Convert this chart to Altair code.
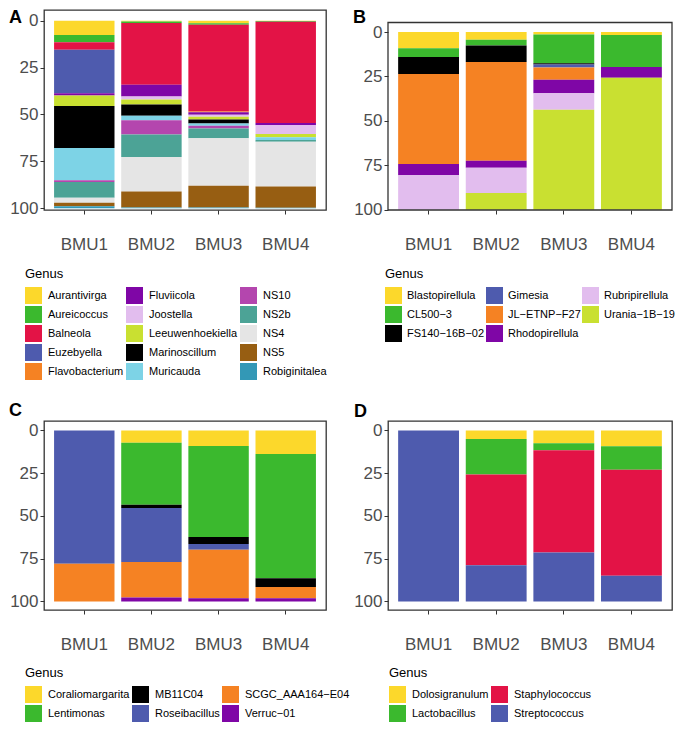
import altair as alt
import pandas as pd

FONT = "Liberation Sans"
SAMPLES = ["BMU1", "BMU2", "BMU3", "BMU4"]

YELLOW, GREEN, RED, BLUE = "#FCD82B", "#3BB92E", "#E31346", "#4E5BAE"
ORANGE, PURPLE, LPINK, YGREEN = "#F58223", "#7F06A6", "#E2BDEE", "#C9E031"
BLACK, LBLUE, MAGENTA, TEAL = "#000000", "#7DD3E6", "#B446AE", "#4CA396"
LGRAY, BROWN, TBLUE = "#E5E5E5", "#975E12", "#3398B6"

# Panel A
A_GENERA = ["Aurantivirga", "Aureicoccus", "Balneola", "Euzebyella", "Flavobacterium",
            "Fluviicola", "Joostella", "Leeuwenhoekiella", "Marinoscillum", "Muricauda",
            "NS10", "NS2b", "NS4", "NS5", "Robiginitalea"]
A_COLORS = [YELLOW, GREEN, RED, BLUE, ORANGE, PURPLE, LPINK, YGREEN, BLACK, LBLUE,
            MAGENTA, TEAL, LGRAY, BROWN, TBLUE]
A_BMU1 = [7.7, 3.8, 4.0, 23.2, 0, 1.2, 0, 5.6, 22.4, 17.2, 1.0, 8.4, 2.6, 1.9, 1.0]
A_BMU2 = [0.5, 0.7, 33.0, 0, 0, 6.2, 1.7, 2.6, 6.0, 2.4, 7.6, 12.0, 18.4, 8.6, 0.3]
A_BMU3 = [1.4, 0.8, 46.3, 0, 0.3, 1.4, 1.0, 1.5, 2.2, 1.2, 1.4, 5.2, 25.4, 11.6, 0.3]
A_BMU4 = [0.2, 0.4, 54.0, 0, 0, 1.2, 4.7, 1.7, 0, 1.4, 0, 1.0, 23.9, 11.3, 0.2]

# Panel B
B_GENERA = ["Blastopirellula", "CL500\u22123", "FS140\u221216B\u221202", "Gimesia",
            "JL\u2212ETNP\u2212F27", "Rhodopirellula", "Rubripirellula", "Urania\u22121B\u221219"]
B_COLORS = [YELLOW, GREEN, BLACK, BLUE, ORANGE, PURPLE, LPINK, YGREEN]
B_BMU1 = [9.1, 5.0, 9.5, 0, 50.7, 6.3, 19.4, 0]
B_BMU2 = [4.3, 3.3, 9.2, 0, 55.7, 3.9, 14.2, 9.4]
B_BMU3 = [1.3, 16.3, 0.7, 1.6, 6.9, 7.6, 9.4, 56.2]
B_BMU4 = [1.6, 18.0, 0, 0, 0, 6.1, 0, 74.3]

# Panel C
C_GENERA = ["Coraliomargarita", "Lentimonas", "MB11C04", "Roseibacillus",
            "SCGC_AAA164\u2212E04", "Verruc\u221201"]
C_COLORS = [YELLOW, GREEN, BLACK, BLUE, ORANGE, PURPLE]
C_BMU1 = [0, 0, 0, 77.9, 22.1, 0]
C_BMU2 = [7.2, 36.2, 1.9, 31.7, 20.7, 2.3]
C_BMU3 = [9.1, 53.2, 4.1, 3.4, 28.3, 1.9]
C_BMU4 = [13.8, 72.6, 5.1, 0, 6.6, 1.9]

# Panel D
D_GENERA = ["Dolosigranulum", "Lactobacillus", "Staphylococcus", "Streptococcus"]
D_COLORS = [YELLOW, GREEN, RED, BLUE]
D_BMU1 = [0, 0, 0, 100]
D_BMU2 = [5.0, 20.8, 53.1, 21.1]
D_BMU3 = [7.5, 4.1, 59.8, 28.6]
D_BMU4 = [9.3, 13.7, 62.0, 15.0]

FRAME = "#333333"


def panel(letter, genera, colors, series, width, height, ydom, letter_xy, legend_xy, ncols,
          frame=None, lab_offset=6, col_pad=2):
    recs = []
    for s, vals in zip(SAMPLES, series):
        for i, (g, v) in enumerate(zip(genera, vals)):
            if v > 0:
                recs.append({"sample": s, "genus": g, "value": v, "idx": i})
    df = pd.DataFrame(recs)
    bars = alt.Chart(df).mark_bar().encode(
        x=alt.X("sample:N", sort=SAMPLES,
                scale=alt.Scale(paddingInner=0.1, paddingOuter=0.15),
                axis=alt.Axis(title=None, labelAngle=0, labelFontSize=17, labelColor="#4D4D4D",
                              labelFont=FONT, tickSize=4, tickColor=FRAME, domain=False,
                              labelPadding=22, grid=False)),
        y=alt.Y("value:Q", stack="zero",
                scale=alt.Scale(domain=ydom, reverse=True, nice=False, zero=False),
                axis=alt.Axis(title=None, values=[0, 25, 50, 75, 100], labelFontSize=17,
                              labelColor="#4D4D4D", labelFont=FONT, tickSize=4,
                              tickColor=FRAME, domain=False, grid=False, labelPadding=2)),
        color=alt.Color("genus:N", scale=alt.Scale(domain=genera, range=colors),
                        legend=alt.Legend(title="Genus", orient="none", legendX=legend_xy[0],
                                          legendY=legend_xy[1], columns=ncols,
                                          labelOffset=lab_offset, columnPadding=col_pad)),
        order=alt.Order("idx:Q", sort="ascending"),
    )
    tdf = pd.DataFrame({"t": [letter]})
    lab = alt.Chart(tdf).mark_text(
        align="left", baseline="alphabetic", fontSize=18, fontWeight="bold", font=FONT,
        color="black"
    ).encode(x=alt.value(letter_xy[0]), y=alt.value(letter_xy[1]), text="t:N")
    layers = [bars, lab]
    props = dict(width=width, height=height)
    if frame is not None:
        box = alt.Chart(tdf).mark_rect(fillOpacity=0, stroke=FRAME, strokeWidth=1.3).encode(
            x=alt.value(0), x2=alt.value(width), y=alt.value(frame[0]), y2=alt.value(frame[1]))
        layers.append(box)
        props["view"] = alt.ViewBackground(stroke="transparent")
    return alt.layer(*layers).properties(**props)


pA = panel("A", A_GENERA, A_COLORS, [A_BMU1, A_BMU2, A_BMU3, A_BMU4], 282, 200,
           [-5.7, 101], (-35, 13), (-19, 258), 3)
pB = panel("B", B_GENERA, B_COLORS, [B_BMU1, B_BMU2, B_BMU3, B_BMU4], 284, 200,
           [-12.44, 100.2], (-35, 13), (-3, 258), 3, frame=(12.5, 200), lab_offset=5,
           col_pad=1)
pC = panel("C", C_GENERA, C_COLORS, [C_BMU1, C_BMU2, C_BMU3, C_BMU4], 282, 189,
           [-5.5, 105], (-35, -5), (-19, 246), 3)
pD = panel("D", D_GENERA, D_COLORS, [D_BMU1, D_BMU2, D_BMU3, D_BMU4], 284, 189,
           [-5.5, 105], (-34, -4), (1, 246), 2)

row1 = alt.hconcat(pA, pB, spacing=24).resolve_scale(
    color="independent", x="independent", y="independent").resolve_legend(color="independent")
row2 = alt.hconcat(pC, pD, spacing=1).resolve_scale(
    color="independent", x="independent", y="independent").resolve_legend(color="independent")

chart = alt.vconcat(row1, row2, spacing=20).resolve_scale(
    color="independent", x="independent", y="independent"
).resolve_legend(color="independent").properties(
    padding=0, background="white"
).configure_view(
    stroke=FRAME, strokeWidth=1.3
).configure_legend(
    symbolType="square", symbolSize=289, symbolStrokeWidth=0, symbolOpacity=1,
    labelFontSize=11, labelFont=FONT, labelColor="black",
    titleFontSize=13, titleFont=FONT, titleFontWeight="normal", titleColor="black",
    titlePadding=6, rowPadding=2,
)

chart.save("out.html", embed_options={"renderer": "svg", "actions": False})
